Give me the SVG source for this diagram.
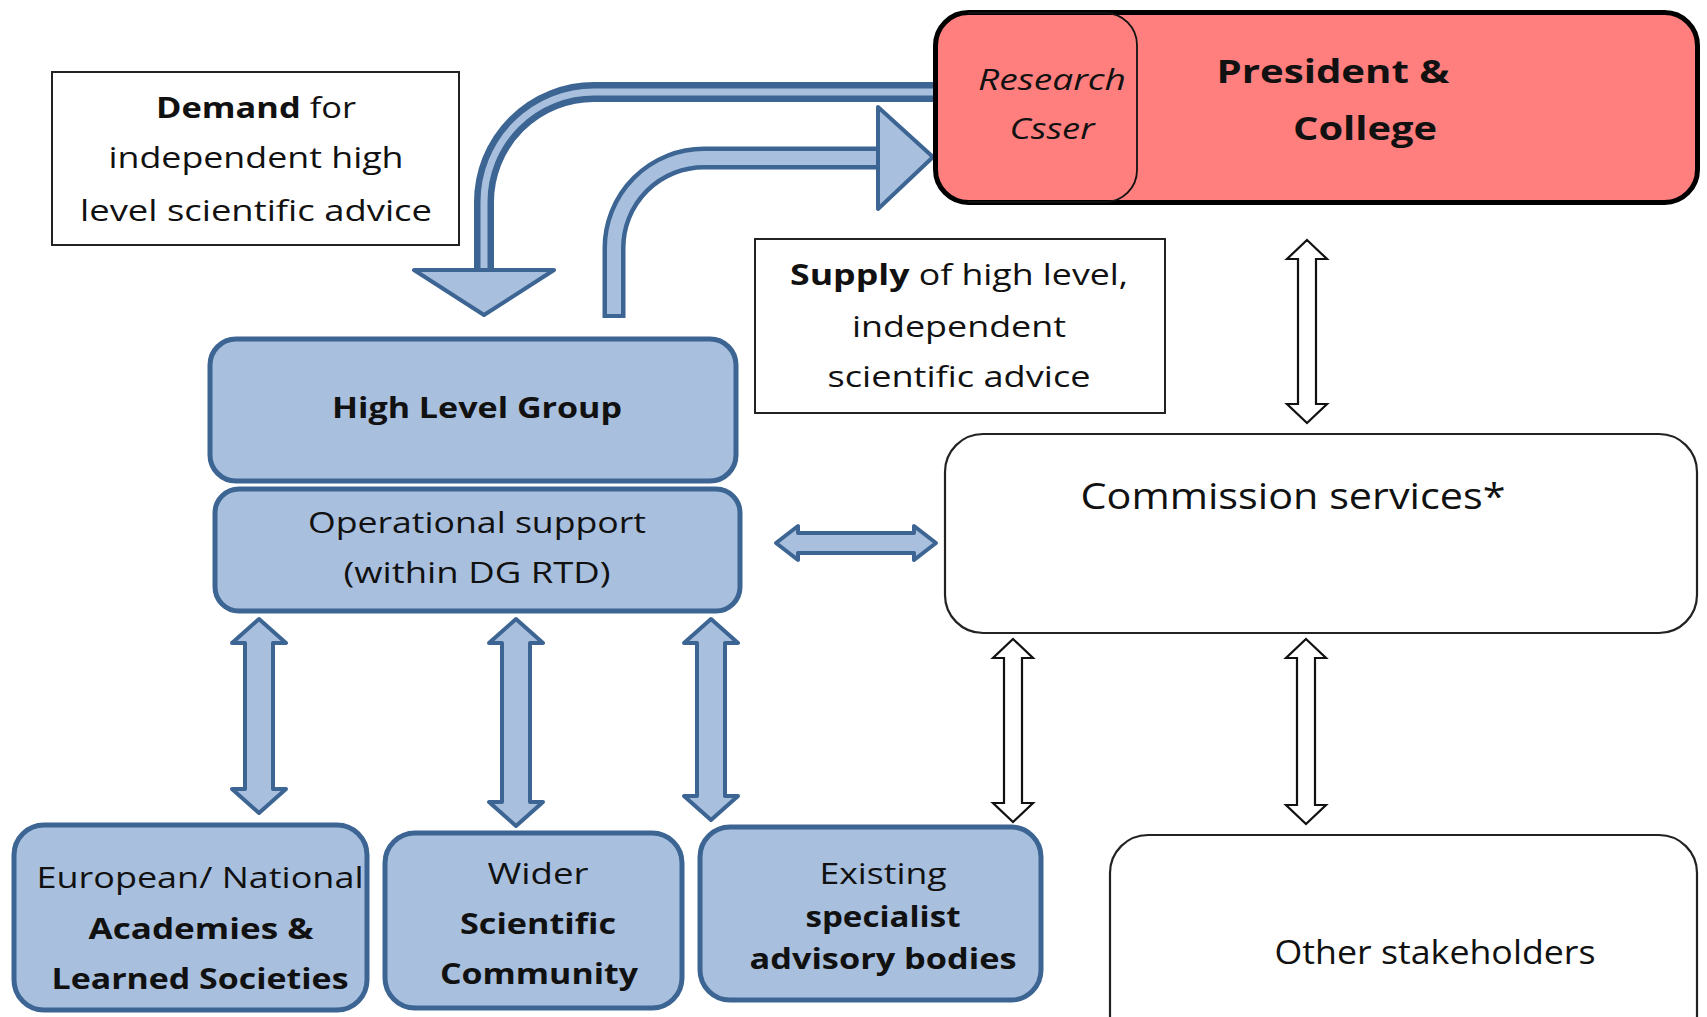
<svg xmlns="http://www.w3.org/2000/svg" width="1707" height="1017" viewBox="0 0 1707 1017">
<defs>
<style>
text{font-family:"Open Sans","DejaVu Sans",sans-serif;fill:#111;text-anchor:middle}
.t28{font-size:29px}
.b{font-weight:bold}
.note{fill:#fff;stroke:#222;stroke-width:2}
.blue{fill:#A8BFDE;stroke:#3D6593;stroke-width:5}
.white{fill:#fff;stroke:#222;stroke-width:2.2}
.barrow{fill:#A8BFDE;stroke:#3D6593;stroke-width:4;stroke-linejoin:round}
.warrow{fill:#fff;stroke:#111;stroke-width:2.2;stroke-linejoin:miter}
</style>
</defs>
<rect width="1707" height="1017" fill="#fff"/>

<g id="connectors">
  <!-- Demand arrow -->
  <path d="M 940 92 H 594 A 110 110 0 0 0 484 202 V 274" fill="none" stroke="#3D6593" stroke-width="20"/>
  <path d="M 940 92 H 594 A 110 110 0 0 0 484 202 V 274" fill="none" stroke="#A8BFDE" stroke-width="7"/>
  <polygon class="barrow" points="414,270 554,270 484,315"/>
  <!-- Supply arrow -->
  <path d="M 614 318 V 248 A 90 90 0 0 1 704 158 H 882" fill="none" stroke="#3D6593" stroke-width="23"/>
  <path d="M 614 314 V 248 A 90 90 0 0 1 704 158 H 884" fill="none" stroke="#A8BFDE" stroke-width="14"/>
  <polygon class="barrow" points="878,107 933,157 878,209"/>
  <!-- HLG/op support to bottom boxes -->
  <polygon class="barrow" points="259,619 286,643 273,643 273,789 286,789 259,813 232,789 245,789 245,643 232,643"/>
  <polygon class="barrow" points="516,619 543,643 530,643 530,802 543,802 516,826 489,802 502,802 502,643 489,643"/>
  <polygon class="barrow" points="711,619 738,643 725,643 725,796 738,796 711,820 684,796 697,796 697,643 684,643"/>
  <!-- Op support to Commission -->
  <polygon class="barrow" points="776,543 798,526 798,533 914,533 914,526 936,543 914,560 914,553 798,553 798,560"/>
  <!-- white arrows -->
  <polygon class="warrow" points="1307,240 1327,259 1316,259 1316,404 1327,404 1307,423 1287,404 1298,404 1298,259 1287,259"/>
  <polygon class="warrow" points="1013,639 1033,658 1022,658 1022,803 1033,803 1013,822 993,803 1004,803 1004,658 993,658"/>
  <polygon class="warrow" points="1306,639 1326,658 1315,658 1315,805 1326,805 1306,824 1286,805 1297,805 1297,658 1286,658"/>
</g>

<g id="demand">
  <rect class="note" x="52" y="72" width="407" height="173"/>
  <text class="t28" x="256" y="118" textLength="200" lengthAdjust="spacingAndGlyphs"><tspan class="b">Demand</tspan> for</text>
  <text class="t28" x="256" y="168" textLength="295" lengthAdjust="spacingAndGlyphs">independent high</text>
  <text class="t28" x="256" y="221" textLength="352" lengthAdjust="spacingAndGlyphs">level scientific advice</text>
</g>

<g id="president">
  <rect x="935.5" y="12.5" width="762" height="190" rx="33" fill="#FF7F7F" stroke="#000" stroke-width="5"/>
  <path d="M 968 13 H 1105 A 32 32 0 0 1 1137 45 V 170 A 32 32 0 0 1 1105 202 H 968" fill="none" stroke="#111" stroke-width="1.8"/>
  <text x="1052" y="90" font-size="30" font-style="italic" textLength="148" lengthAdjust="spacingAndGlyphs">Research</text>
  <text x="1052" y="139" font-size="30" font-style="italic" textLength="85" lengthAdjust="spacingAndGlyphs">Csser</text>
  <text class="b" x="1333" y="83" font-size="33" textLength="233" lengthAdjust="spacingAndGlyphs">President &amp;</text>
  <text class="b" x="1365" y="140" font-size="33" textLength="144" lengthAdjust="spacingAndGlyphs">College</text>
</g>

<g id="supply">
  <rect class="note" x="755" y="239" width="410" height="174"/>
  <text class="t28" x="959" y="285" textLength="338" lengthAdjust="spacingAndGlyphs"><tspan class="b">Supply</tspan> of high level,</text>
  <text class="t28" x="959" y="337" textLength="214" lengthAdjust="spacingAndGlyphs">independent</text>
  <text class="t28" x="959" y="387" textLength="263" lengthAdjust="spacingAndGlyphs">scientific advice</text>
</g>

<g id="hlg">
  <rect class="blue" x="210" y="339" width="526" height="142" rx="26"/>
  <text class="t28 b" x="477" y="418" textLength="290" lengthAdjust="spacingAndGlyphs">High Level Group</text>
</g>

<g id="opsupport">
  <rect class="blue" x="215" y="489" width="525" height="122" rx="24"/>
  <text x="477" y="533" font-size="30" textLength="338" lengthAdjust="spacingAndGlyphs">Operational support</text>
  <text x="477" y="583" font-size="30" textLength="267" lengthAdjust="spacingAndGlyphs">(within DG RTD)</text>
</g>

<g id="commission">
  <rect class="white" x="945" y="434" width="752" height="199" rx="38"/>
  <text x="1293" y="509" font-size="37" textLength="425" lengthAdjust="spacingAndGlyphs">Commission services*</text>
</g>

<g id="other">
  <rect class="white" x="1110" y="835" width="587" height="220" rx="38"/>
  <text x="1435" y="964" font-size="32" textLength="321" lengthAdjust="spacingAndGlyphs">Other stakeholders</text>
</g>

<g id="academies">
  <rect class="blue" x="14" y="825" width="353" height="185" rx="30"/>
  <text class="t28" x="200" y="888" textLength="327" lengthAdjust="spacingAndGlyphs">European/ National</text>
  <text class="t28 b" x="201" y="939" textLength="225" lengthAdjust="spacingAndGlyphs">Academies &amp;</text>
  <text class="t28 b" x="200" y="989" textLength="297" lengthAdjust="spacingAndGlyphs">Learned Societies</text>
</g>

<g id="wider">
  <rect class="blue" x="385" y="833" width="297" height="175" rx="30"/>
  <text class="t28" x="538" y="884" textLength="101" lengthAdjust="spacingAndGlyphs">Wider</text>
  <text class="t28 b" x="538" y="934" textLength="156" lengthAdjust="spacingAndGlyphs">Scientific</text>
  <text class="t28 b" x="539" y="984" textLength="198" lengthAdjust="spacingAndGlyphs">Community</text>
</g>

<g id="existing">
  <rect class="blue" x="700" y="827" width="341" height="173" rx="30"/>
  <text class="t28" x="883" y="884" textLength="127" lengthAdjust="spacingAndGlyphs">Existing</text>
  <text class="t28 b" x="883" y="927" textLength="155" lengthAdjust="spacingAndGlyphs">specialist</text>
  <text class="t28 b" x="883" y="969" textLength="267" lengthAdjust="spacingAndGlyphs">advisory bodies</text>
</g>
</svg>
